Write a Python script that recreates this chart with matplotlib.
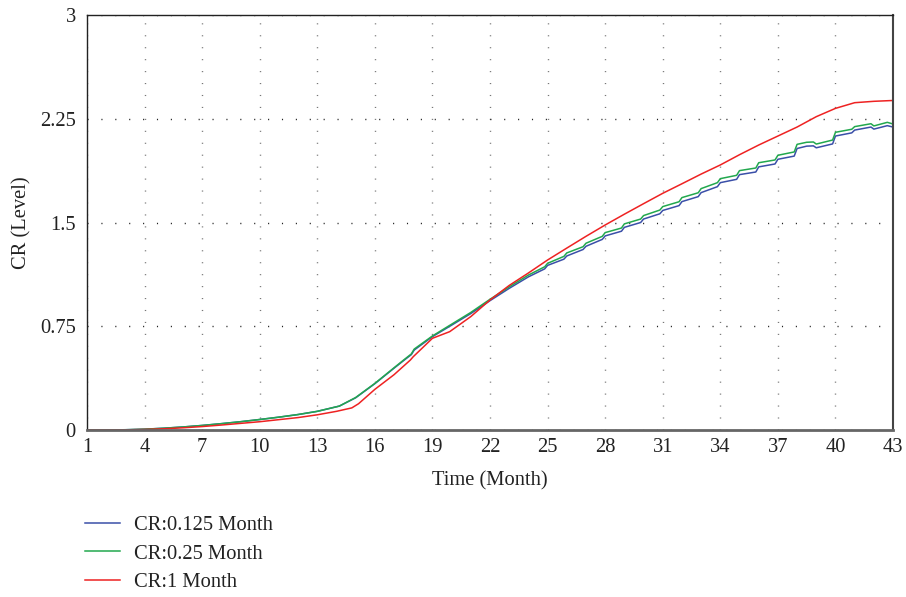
import matplotlib
matplotlib.use("Agg")
import matplotlib.pyplot as plt

plt.rcParams['font.family'] = ['Liberation Serif', 'DejaVu Serif']

# time points (months) for the two fine-step runs
t_fine = [1, 2, 3, 4, 5, 6, 7, 8, 9, 10, 11, 12, 13, 14.15, 15, 16, 17, 17.5, 17.9, 18.05,
          19, 20, 21, 22, 23, 24,
          24.85, 25, 25.85, 26, 26.85, 27, 27.85, 28, 28.85, 29, 29.85, 30,
          30.85, 31, 31.85, 32, 32.85, 33, 33.85, 34, 34.85, 35, 35.85, 36,
          36.85, 37, 37.85, 38, 38.5, 38.85, 39, 39.85, 40, 40.85, 41, 41.85, 42,
          42.7, 43]

cr_0125 = [0, 0, 0.002, 0.006, 0.013, 0.022, 0.033, 0.046, 0.06, 0.076, 0.093, 0.112, 0.135,
           0.173, 0.233, 0.335, 0.447, 0.502, 0.545, 0.578,
           0.675, 0.758, 0.842, 0.935, 1.024, 1.107,
           1.165, 1.19, 1.235, 1.258, 1.305, 1.328, 1.378, 1.403, 1.437, 1.465, 1.5, 1.525,
           1.563, 1.587, 1.622, 1.651, 1.687, 1.716, 1.759, 1.788, 1.812, 1.846, 1.865, 1.902,
           1.923, 1.957, 1.98, 2.035, 2.052, 2.054, 2.04, 2.068, 2.125, 2.148, 2.168, 2.19, 2.175,
           2.2, 2.19]

cr_025 = [0, 0, 0.002, 0.006, 0.013, 0.022, 0.033, 0.046, 0.06, 0.076, 0.093, 0.112, 0.135,
          0.173, 0.235, 0.337, 0.45, 0.506, 0.55, 0.585,
          0.68, 0.765, 0.85, 0.945, 1.035, 1.12,
          1.18, 1.205, 1.255, 1.28, 1.325, 1.35, 1.40, 1.427, 1.46, 1.49, 1.525, 1.55,
          1.59, 1.615, 1.65, 1.68, 1.715, 1.745, 1.788, 1.817, 1.841, 1.875, 1.894, 1.932,
          1.952, 1.986, 2.010, 2.065, 2.08, 2.082, 2.067, 2.096, 2.152, 2.174, 2.193, 2.214, 2.198,
          2.224, 2.212]

t_month = [1, 2, 3, 4, 5, 6, 7, 8, 9, 10, 11, 12, 13, 14, 14.8, 15.15, 16, 17, 17.85, 18,
           19, 19.9, 21, 22, 23, 24, 25, 26, 27, 28, 29, 30, 31, 32, 33, 34, 35, 36, 37,
           38, 39, 40, 41, 42, 43]

cr_1 = [0, 0, 0.001, 0.004, 0.009, 0.016, 0.025, 0.036, 0.048, 0.06, 0.075, 0.09, 0.11, 0.135,
        0.16, 0.19, 0.294, 0.40, 0.506, 0.53, 0.663, 0.711,
        0.82, 0.94, 1.045, 1.135, 1.229, 1.315, 1.40, 1.482, 1.56, 1.636, 1.711, 1.78, 1.85,
        1.916, 1.99, 2.06, 2.125, 2.19, 2.265, 2.325, 2.366, 2.376, 2.382]

x_ticks = list(range(1, 44, 3))
y_ticks = [0, 0.75, 1.5, 2.25, 3]
y_labels = ['0', '0.75', '1.5', '2.25', '3']

fig = plt.figure(figsize=(9.06, 5.97), dpi=100)
ax = fig.add_axes([0.096, 0.2797, 0.8897, 0.6952])

ax.plot(t_fine, cr_0125, color='#3a4fa8', lw=1.1, label='CR:0.125 Month')
ax.plot(t_fine, cr_025, color='#22a84e', lw=1.1, label='CR:0.25 Month')
ax.plot(t_month, cr_1, color='#ee2222', lw=1.1, label='CR:1 Month')

ax.set_xlim(1, 43)
ax.set_ylim(0, 3)
ax.set_xticks(x_ticks)
ax.set_yticks(y_ticks)
ax.set_yticklabels(y_labels)
ax.tick_params(length=0, labelsize=14.8, colors='#222222')
ax.tick_params(axis='x', pad=6)
ax.tick_params(axis='y', pad=8)

ax.xaxis.grid(True, color='#777777', lw=1.0, linestyle=(0, (0.8, 7.8)))
ax.yaxis.grid(True, color='#222222', lw=1.0, linestyle=(0, (0.8, 9.2)))

for s in ['left', 'top']:
    ax.spines[s].set_color('#222222')
    ax.spines[s].set_linewidth(1.0)
ax.spines['right'].set_color('#444444')
ax.spines['right'].set_linewidth(1.5)
ax.spines['bottom'].set_color('#666666')
ax.spines['bottom'].set_linewidth(2.0)

ax.set_xlabel('Time (Month)', fontsize=14.8, color='#222222', labelpad=10)
ax.set_ylabel('CR (Level)', fontsize=14.8, color='#222222', labelpad=6)

fig.legend(loc='upper left', bbox_to_anchor=(0.094, 0.1357), frameon=False,
           fontsize=14.8, handlelength=1.7, handletextpad=0.7, labelspacing=0.43,
           borderpad=0, borderaxespad=0, labelcolor='#222222')

fig.savefig('out.png', dpi=100)
